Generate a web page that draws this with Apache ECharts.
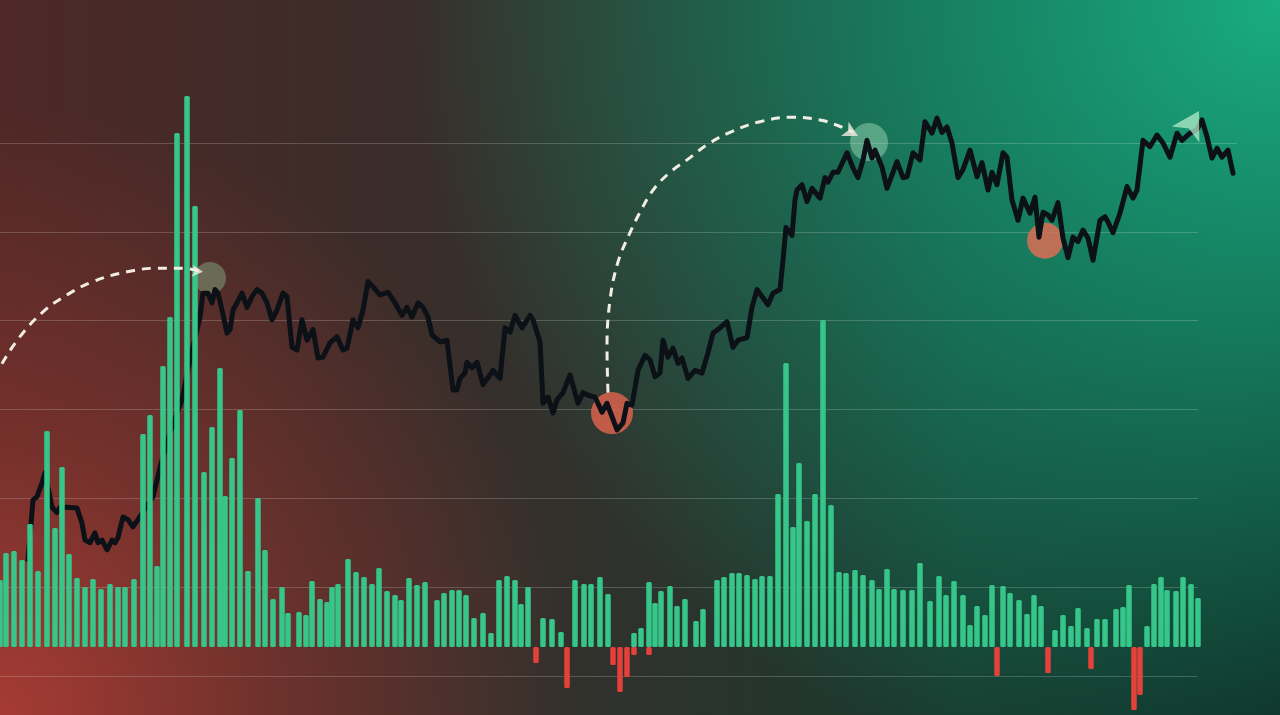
<!DOCTYPE html>
<html>
<head>
<meta charset="utf-8">
<script src="https://cdn.jsdelivr.net/npm/echarts/dist/echarts.min.js"></script>
<style>
html,body{margin:0;padding:0;width:1280px;height:715px;overflow:hidden;background:#2d302c;}
#chart{width:1280px;height:715px;
background:
 radial-gradient(ellipse 45% 85% at 0% 100%, rgba(170,60,52,0.95) 0%, rgba(150,55,48,0.55) 45%, rgba(120,50,45,0) 100%),
 radial-gradient(ellipse 68% 115% at 100% 0%, rgba(25,172,130,1) 0%, rgba(23,150,112,0.72) 42%, rgba(20,110,85,0) 100%),
 linear-gradient(90deg, #4e2826 0%, #3c2c29 28%, #2e322d 50%, #173a2e 75%, #0e2620 100%);
}
</style>
</head>
<body>
<div id="chart"></div>
<script>
// ---- price line (time in sessions, price level) ----
const priceT = [0,1,1.8,2.8,3.4,4.8,5.8,6.4,7.8,9.8,10.8,11.4,12.4,13.4,14,14.8,15.8,16.8,17.4,18,19,20,21,22,25,26.4,28.4,30.8,32.4,34.4,35,36,36.8,37.4,38,38.8,39.8,40.4,41,41.8,42.8,43.8,44.8,45.8,46.8,47.8,48.8,49.8,51,51.8,52.8,53.8,54.8,55.8,57,58,59,60.4,61.8,63,63.8,65,66,67,68,69,70.4,72,73.4,74.8,75.8,76.8,78,79,80,80.8,82.4,83.8,85,85.8,86.4,87.4,87.8,88.8,89.8,91,92.4,93,94.4,95.4,96.4,97.4,98.8,100.4,101,102.4,103,104,105,105.8,107,108.4,110,111,112,113.4,114.8,115.8,116.8,117.8,119,119.8,120.8,122,123.4,124.4,125.4,126.4,127,128,129,130,130.8,132,133.4,134.8,136,137,138,139.8,141,142,143.8,144.8,145.8,148,149,150.4,151,151.6,152.8,153.4,153.8,154.8,155.8,156.8,158.4,159.4,160,161,162,163.8,165,166,167,167.8,168.8,169.4,170.8,171.8,172.4,173.8,175,175.8,177,178.4,179.4,180.8,181.8,182.8,183.8,184.8,186,187,188.4,189.8,190.8,192,192.8,193.8,195,195.8,196.8,198,199,200.4,201.4,202.2,203,204,204.8,206,207,208,209,210,211,212,213,214.4,215.4,216,217,218.4,219.8,221,221.8,223,224.4,225.8,227,228.4,229.8,230.8,232.4,233.8,234.8,235.8,236.8,237.8,238.8,240,241];
const priceP = [33.1,39.8,40.2,41.7,42.9,39.0,38.4,39.0,39.0,38.9,37.2,35.3,35.0,36.1,35.0,35.3,34.2,35.3,35.0,35.6,37.9,37.6,36.8,37.6,40.2,43.5,47.4,51.1,55.6,60.4,63.1,63.1,62.0,63.5,63.1,61.2,58.6,59.0,61.2,62.0,63.1,61.5,62.7,63.5,63.1,62.0,60.1,61.2,63.1,62.7,57.0,56.7,60.1,57.8,59.0,55.8,55.9,57.5,58.2,56.7,56.9,60.1,59.2,61.2,64.4,63.8,62.9,63.2,62.0,60.6,61.5,60.4,62.0,61.5,60.4,58.4,57.6,57.8,52.2,52.2,53.5,54.1,55.3,54.7,55.3,52.8,53.9,54.4,53.5,59.2,58.7,60.6,59.2,60.6,60.1,57.6,50.7,51.4,49.6,51.1,51.9,53.9,50.7,51.9,51.6,51.4,49.7,50.7,49.2,47.7,48.5,50.7,50.5,54.4,56.1,55.6,53.7,54.1,57.8,55.9,56.9,55.2,55.8,53.5,54.4,54.1,56.4,58.6,59.0,59.9,57.0,57.8,58.1,61.5,63.5,61.8,63.1,63.5,66.8,70.5,69.6,73.6,74.7,75.3,73.4,74.9,73.8,76.1,75.6,76.7,76.7,78.9,77.2,76.1,78.1,80.3,78.3,79.2,77.3,74.9,75.8,77.9,76.1,76.2,78.9,78.1,82.4,81.1,82.8,81.2,81.8,80.0,76.1,77.0,79.2,76.2,77.8,74.7,76.7,75.3,78.9,78.4,73.6,71.3,73.8,72.1,73.9,69.4,72.2,71.9,71.3,73.3,69.3,67.1,69.4,68.9,70.2,69.3,66.8,71.3,71.7,71.1,69.9,72.1,75.1,73.8,74.7,80.3,79.6,80.9,80.0,78.4,81.1,80.3,81.1,81.5,82.6,80.7,78.3,79.4,78.4,79.2,76.6];

// ---- volume / flow bars ----
const volT = [0,1.2,2.8,4.4,6,7.6,9.4,11,12.4,13.8,15.4,17,18.6,20.2,22,23.6,25,26.8,28.6,30,31.4,32.6,34,35.4,37.4,39,40.8,42.4,44,45,46.4,48,49.6,51.6,53,54.6,56.4,57.6,59.8,61.2,62.4,64,65.4,66.4,67.6,69.6,71.2,72.8,74.4,75.8,77.4,79,80.2,81.8,83.4,85,87.4,88.8,90.4,91.8,93.2,94.8,96.6,98.2,99.8,101.4,103,104.2,105.6,107.2,108.6,110.4,112.2,113.4,115,116.8,118.2,120,121.6,122.6,124,125.4,126.8,126.8,128.2,129.8,129.8,131,132.2,134,135.4,137,139.2,140.6,143.4,144.8,146.4,147.8,149.4,151,152.4,154,155.6,157.2,158.6,159.8,161.4,163,164.6,166.2,167.8,169.2,171,172.6,174.4,175.8,177.4,178.8,180.6,182.4,184,186,187.8,189.2,190.8,192.6,194,195.4,197,198.4,199.4,200.6,202,203.8,205.4,206.8,208.2,209.6,211,212.6,214.2,215.6,217.4,218.2,219.4,221,223.2,224.6,225.8,226.8,228,229.4,230.8,232.2,233.4,235.2,236.6,238.2,239.6];
const volV = [6.7,9.4,9.6,8.7,12.3,7.6,21.6,11.9,18.0,9.3,6.9,6.0,6.8,5.8,6.3,6.0,6.0,6.8,21.3,23.2,8.1,28.1,33.0,51.4,55.1,44.1,17.5,22.0,27.9,15.1,18.9,23.7,7.6,14.9,9.7,4.8,6.0,3.4,3.5,3.2,6.6,4.8,4.5,6.0,6.3,8.8,7.5,7.0,6.3,7.9,5.6,5.2,4.7,6.9,6.2,6.5,4.7,5.4,5.7,5.7,5.2,2.9,3.4,1.4,6.7,7.1,6.7,4.3,6.0,-1.6,2.9,2.8,1.5,-4.1,6.7,6.3,6.3,7.0,5.3,-1.8,-4.5,-3.0,1.4,-0.8,1.9,6.5,-0.8,4.4,5.6,6.1,4.1,4.8,2.6,3.8,6.7,7.0,7.4,7.4,7.2,6.8,7.1,7.1,15.3,28.4,12.0,18.4,12.6,15.3,32.7,14.2,7.5,7.4,7.7,7.2,6.7,5.8,7.8,5.8,5.7,5.7,8.4,4.6,7.1,5.2,6.6,5.2,2.2,4.1,3.2,6.2,-2.9,6.1,5.4,4.7,3.3,5.2,4.1,-2.6,1.7,3.2,2.1,3.9,1.9,-2.2,2.8,2.8,3.8,4.0,6.2,-6.3,-4.8,2.1,6.3,7.0,5.7,5.6,7.0,6.3,4.9];

// ---- price scale ticks ----
const priceTicks = [20,30,40,50,60,70,80];

// ---- highlighted turning points (on the price line scale) ----
const highT = [36.4, 168.2];
const highP = [64.8, 80.1];
const lowT = [116.8, 203.4];
const lowP = [49.6, 69.0];

// ---- dashed move arcs ----
const arc1T = [-6.6,-5.6,-1.6,3,7.8,13,19.8,25.8,30.4,34.4];
const arc1P = [53.5,54.8,58.2,61.0,62.9,64.4,65.5,65.9,65.9,65.6];
const arc2T = [116,115.8,116.4,118,120.4,122.4,125,128.4,131.8,135.8,140.4,146.4,153,158.4,161.8,165];
const arc2P = [51.9,57.0,62.3,66.6,69.9,72.2,74.7,76.7,78.1,79.8,81.2,82.4,82.9,82.6,82.0,81.2];

// ---- arrow tips ----
const arrowT = [35, 166];
const arrowP = [65.5, 80.8];
const trendT = [234.2];
const trendP = [83.6];

const zip = (a, b) => a.map((v, i) => [v, b[i]]);

const chart = echarts.init(document.getElementById('chart'), null, {renderer: 'canvas'});
const dashStyle = {color: '#f2ede3', width: 3, type: [9, 7], cap: 'butt'};
const ruleColor = 'rgba(255,255,255,0.19)';

chart.setOption({
  backgroundColor: 'transparent',
  animation: false,
  grid: [
    {left: 0, right: 82, top: 143, bottom: 39},   // reference rules
    {left: 0, right: 0, top: 47, bottom: 8},      // bars
    {left: 0, right: 0, top: 143, bottom: 39},    // price line
    {left: 1198, right: 43, top: 143, bottom: 39} // top rule extension
  ],
  xAxis: [
    {gridIndex: 0, type: 'value', min: 0, max: 1, show: false},
    {gridIndex: 1, type: 'value', min: 0, max: 256, show: false},
    {gridIndex: 2, type: 'value', min: -5.6, max: 250.4, show: false},
    {gridIndex: 3, type: 'value', min: 0, max: 1, show: false}
  ],
  yAxis: [
    {gridIndex: 0, type: 'value', min: priceTicks[0], max: priceTicks[priceTicks.length-1], interval: 10,
     axisLine: {show: false}, axisTick: {show: false}, axisLabel: {show: false},
     splitLine: {show: true, lineStyle: {color: ruleColor, width: 1}}},
    {gridIndex: 1, type: 'value', min: -6, max: 60, show: false, splitLine: {show: false}},
    {gridIndex: 2, type: 'value', min: 20, max: 80, show: false, splitLine: {show: false}},
    {gridIndex: 3, type: 'value', min: 20, max: 80, interval: 60,
     axisLine: {show: false}, axisTick: {show: false}, axisLabel: {show: false},
     splitLine: {show: true, lineStyle: {color: ['rgba(0,0,0,0)', ruleColor], width: 1}}}
  ],
  series: [
    {
      type: 'scatter', xAxisIndex: 2, yAxisIndex: 2, z: 1, clip: false,
      data: [
        {value: [highT[0], highP[0]], symbolSize: 32, itemStyle: {color: 'rgba(150,215,165,0.45)'}},
        {value: [highT[1], highP[1]], symbolSize: 38, itemStyle: {color: 'rgba(185,240,205,0.5)'}},
        {value: [lowT[0], lowP[0]], symbolSize: 42, itemStyle: {color: '#e5644d'}},
        {value: [lowT[1], lowP[1]], symbolSize: 36, itemStyle: {color: '#e86d55'}}
      ],
      symbol: 'circle', silent: true
    },
    {
      type: 'line', xAxisIndex: 2, yAxisIndex: 2, z: 2, clip: false,
      data: zip(priceT, priceP), showSymbol: false, smooth: false,
      lineStyle: {color: '#0b1117', width: 5, join: 'round', cap: 'round'}
    },
    {
      type: 'bar', xAxisIndex: 1, yAxisIndex: 1, z: 3, clip: false,
      data: zip(volT, volV), barWidth: 5.5,
      itemStyle: {
        color: p => p.value[1] >= 0 ? '#37c68a' : '#e3413a',
        borderRadius: 1.5
      }
    },
    {
      type: 'line', xAxisIndex: 2, yAxisIndex: 2, z: 4, clip: false,
      data: zip(arc1T, arc1P), showSymbol: false, smooth: 0.4, lineStyle: dashStyle
    },
    {
      type: 'line', xAxisIndex: 2, yAxisIndex: 2, z: 4, clip: false,
      data: zip(arc2T, arc2P), showSymbol: false, smooth: 0.4, lineStyle: dashStyle
    },
    {
      type: 'scatter', xAxisIndex: 2, yAxisIndex: 2, z: 5, clip: false, silent: true,
      symbol: 'arrow',
      data: [
        {value: [arrowT[0], arrowP[0]], symbolSize: [9, 11], symbolRotate: -95},
        {value: [arrowT[1], arrowP[1]], symbolSize: [12, 15], symbolRotate: -118},
        {value: [trendT[0], trendP[0]], symbolSize: [24, 27], symbolRotate: -30, itemStyle: {color: 'rgba(182,236,202,0.92)'}}
      ],
      itemStyle: {color: '#f2ede3'}
    }
  ]
});
</script>
</body>
</html>
